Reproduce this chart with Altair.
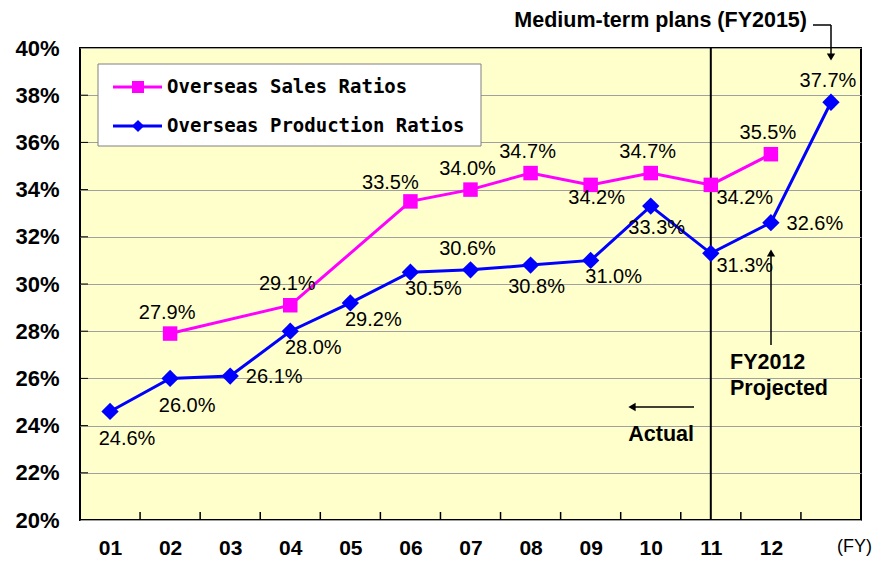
import altair as alt
import pandas as pd

# ---------------- data ----------------
year_labels = ["01", "02", "03", "04", "05", "06", "07", "08", "09", "10", "11", "12"]
year_pos = list(range(1, 13))          # 13th slot = FY2015 plan (unlabelled)

sales_name = "Overseas Sales Ratios"
sales_x = [2, 4, 6, 7, 8, 9, 10, 11, 12]
sales_vals = [27.9, 29.1, 33.5, 34.0, 34.7, 34.2, 34.7, 34.2, 35.5]
sales_place = ["above", "above", "aboveleft", "above", "above", "belowclose",
               "above", "belowfar", "above"]

prod_name = "Overseas Production Ratios"
prod_x = [1, 2, 3, 4, 5, 6, 7, 8, 9, 10, 11, 12, 13]
prod_vals = [24.6, 26.0, 26.1, 28.0, 29.2, 30.5, 30.6, 30.8, 31.0, 33.3, 31.3, 32.6, 37.7]
prod_place = ["belowdeep", "belowdeep", "right", "belowright", "belowright", "belowright",
              "above", "below", "belowright", "below", "belowfar", "right", "above"]

y_ticks = [20, 22, 24, 26, 28, 30, 32, 34, 36, 38, 40]
split_year = [11]

# ---------------- styling ----------------
MAGENTA = "#FF00FF"
BLUE = "#0000FF"
FONT = "Liberation Sans"
W, H = 781, 472

offsets = {
    "above": (-3, -21),
    "aboveleft": (-20, -18),
    "below": (6, 22),
    "belowdeep": (17, 28),
    "belowclose": (6, 13),
    "belowright": (23, 17),
    "belowfar": (34, 13),
    "right": (44, 1),
}

sales_df = pd.DataFrame({"x": sales_x, "v": sales_vals, "place": sales_place})
sales_df["label"] = [f"{v:.1f}%" for v in sales_vals]
prod_df = pd.DataFrame({"x": prod_x, "v": prod_vals, "place": prod_place})
prod_df["label"] = [f"{v:.1f}%" for v in prod_vals]

xscale = alt.Scale(domain=[0.5, 13.5], nice=False, zero=False)
yscale = alt.Scale(domain=[20, 40], nice=False, zero=False)

label_map = "{" + ",".join(f"'{p}':'{l}'" for p, l in zip(year_pos, year_labels)) + "}"
xaxis = alt.Axis(values=year_pos, labelExpr=f"{label_map}[datum.value]", ticks=False,
                 domain=False, grid=False, labelFont=FONT, labelFontSize=21,
                 labelFontWeight="bold", labelColor="black", labelPadding=17,
                 labelOverlap=False, title=None)
yaxis = alt.Axis(values=y_ticks, labelExpr="datum.value + '%'", ticks=False, domain=False,
                 grid=True, gridColor="#A0A0A0", gridWidth=1, labelFont=FONT,
                 labelFontSize=22, labelFontWeight="bold", labelColor="black",
                 labelPadding=21, labelOverlap=False, title=None)

X = alt.X("x:Q", scale=xscale, axis=xaxis)
Y = alt.Y("v:Q", scale=yscale, axis=yaxis)

layers = []

# inward ticks
xt_df = pd.DataFrame({"x": [p + 0.5 for p in year_pos]})
layers.append(alt.Chart(xt_df).mark_rule(color="black", strokeWidth=1.5).encode(
    x=X, y=alt.value(H), y2=alt.value(H - 8)))
yt_df = pd.DataFrame({"v": y_ticks[1:-1]})
layers.append(alt.Chart(yt_df).mark_rule(color="black", strokeWidth=1).encode(
    y=Y, x=alt.value(0), x2=alt.value(8)))

# vertical split line at FY11
layers.append(alt.Chart(pd.DataFrame({"x": split_year})).mark_rule(
    color="black", strokeWidth=2).encode(x=X, y=alt.value(0), y2=alt.value(H)))

# series
layers.append(alt.Chart(sales_df).mark_line(color=MAGENTA, strokeWidth=3).encode(x=X, y=Y))
layers.append(alt.Chart(prod_df).mark_line(color=BLUE, strokeWidth=3).encode(x=X, y=Y))
layers.append(alt.Chart(sales_df).mark_point(shape="square", filled=True, opacity=1,
                                             color=MAGENTA, size=210).encode(x=X, y=Y))
layers.append(alt.Chart(prod_df).mark_point(shape="diamond", filled=True, opacity=1,
                                            color=BLUE, size=300).encode(x=X, y=Y))

# data labels
for df in (sales_df, prod_df):
    for p, (dx, dy) in offsets.items():
        if p not in set(df["place"]):
            continue
        layers.append(alt.Chart(df).transform_filter(alt.datum.place == p).mark_text(
            font=FONT, fontSize=20, color="black", align="center", baseline="middle",
            dx=dx, dy=dy).encode(x=X, y=Y, text="label:N"))

# legend (manual)
one = pd.DataFrame({"a": [0]})
layers.append(alt.Chart(one).mark_rect(fill="white", stroke="#808080", strokeWidth=1).encode(
    x=alt.value(18), x2=alt.value(401), y=alt.value(16), y2=alt.value(98)))
for name, col, shape, size, yy in [(sales_name, MAGENTA, "square", 144, 39),
                                   (prod_name, BLUE, "diamond", 150, 78)]:
    layers.append(alt.Chart(one).mark_rule(color=col, strokeWidth=3).encode(
        x=alt.value(33), x2=alt.value(82), y=alt.value(yy)))
    layers.append(alt.Chart(one).mark_point(shape=shape, filled=True, opacity=1, color=col,
                                            size=size).encode(x=alt.value(58), y=alt.value(yy)))
    layers.append(alt.Chart(one).mark_text(text=name, font="DejaVu Sans Mono", fontSize=19,
                                           fontWeight="bold", align="left", baseline="middle",
                                           color="black").encode(x=alt.value(87), y=alt.value(yy)))

# annotations
def txt(t, x, y, align="left", size=21.5, weight="bold", font=FONT):
    return alt.Chart(one).mark_text(text=t, font=font, fontSize=size, fontWeight=weight,
                                    align=align, baseline="middle", color="black").encode(
        x=alt.value(x), y=alt.value(y))

def rule(x, x2, y, y2):
    return alt.Chart(one).mark_rule(color="black", strokeWidth=1.5).encode(
        x=alt.value(x), x2=alt.value(x2), y=alt.value(y), y2=alt.value(y2))

def head(shape, x, y):
    return alt.Chart(one).mark_point(shape=shape, filled=True, opacity=1, color="black",
                                     size=70).encode(x=alt.value(x), y=alt.value(y))

layers += [
    txt("Medium-term plans (FY2015)", 727, -27, align="right"),
    rule(733, 751, -23, -23), rule(751, 751, -23, 6), head("triangle-down", 751, 9),
    rule(691, 691, 206, 297), head("triangle-up", 691, 205),
    txt("FY2012", 650, 315), txt("Projected", 650, 341),
    rule(553, 614, 359, 359), head("triangle-left", 552, 359),
    txt("Actual", 614, 387, align="right"),
    txt("(FY)", 757, 499, size=18, weight="normal"),
]

chart = alt.layer(*layers).properties(
    width=W, height=H,
    padding={"left": 72, "top": 40, "right": 16, "bottom": 37},
    autosize=alt.AutoSizeParams(type="none"),
    background="white",
).configure_view(fill="#FFFFCC", stroke="black", strokeWidth=2)

chart.save("out.html", embed_options={"renderer": "svg", "actions": False})
